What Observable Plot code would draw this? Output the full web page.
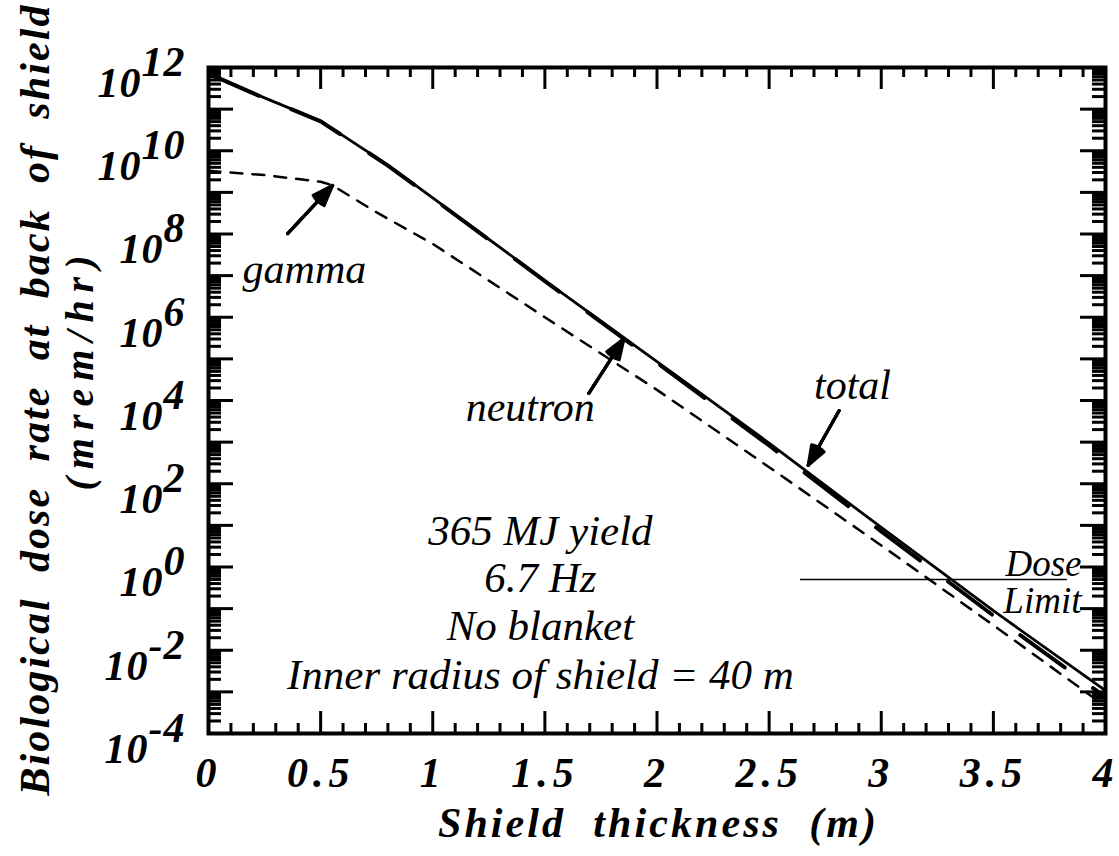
<!DOCTYPE html>
<html>
<head>
<meta charset="utf-8">
<script src="https://cdn.jsdelivr.net/npm/d3@7"></script>
<script src="https://cdn.jsdelivr.net/npm/@observablehq/plot@0.6"></script>
<style>
  body { margin: 0; background: #fff; }
</style>
</head>
<body>
<div id="chart"></div>
<script>
// ---- data ----
const thickness = [0, 0.25, 0.5, 0.8, 1.0, 1.5, 2.0, 2.5, 3.0, 3.5, 4.0];
const totalDose = [7.2e11, 1.86e11, 5.2e10, 4.5e9, 7.4e8, 7.6e6, 8.6e4, 9.5e2, 8.9, 8.9e-2, 1.07e-3];
const neutronDose = [7.1e11, 1.82e11, 5.1e10, 4.4e9, 7.2e8, 7.4e6, 8.0e4, 8.3e2, 7.2, 6.8e-2, 7.5e-4];
const gammaThickness = [0, 0.25, 0.5, 0.55, 0.75, 1.0, 1.25, 1.5, 2.0, 2.5, 3.0, 3.5, 4.0];
const gammaDose = [3.3e9, 2.6e9, 1.8e9, 1.5e9, 3.3e8, 5.8e7, 7.6e6, 1.0e6, 1.8e4, 2.5e2, 3.3, 4.0e-2, 4.5e-4];

const doseLimit = [0.5];
const doseLimitFrom = [2.64];
const doseLimitTo = [3.83];

const xTicks = [0, 0.5, 1, 1.5, 2, 2.5, 3, 3.5, 4];
const xTickLabels = ["0", "0.5", "1", "1.5", "2", "2.5", "3", "3.5", "4"];
const yLabelExponents = [12, 10, 8, 6, 4, 2, 0, -2, -4];
const yLabelBase = "10";

const noteLines = ["365 MJ yield", "6.7 Hz", "No blanket", "Inner radius of shield = 40 m"];
const noteX = [1.48, 1.48, 1.48, 1.48];
const noteY = [7.1, 0.53, 0.037, 2.45e-3];

const curveLabels = ["gamma", "neutron", "total"];
const curveLabelX = [0.152, 1.147, 2.70];
const curveLabelY = [1.41e7, 6.8e3, 2.3e4];

const arrowX1 = [0.353, 1.696, 2.8125];
const arrowY1 = [1.02e8, 1.48e4, 5.75e3];
const arrowX2 = [0.554, 1.853, 2.674];
const arrowY2 = [1.48e9, 3.09e5, 2.75e2];

const limitLabels = ["Dose", "Limit"];
const limitLabelX = [3.893, 3.893];
const limitLabelY = [1.2, 0.148];

const xTitle = "Shield  thickness  (m)";
const yTitle = "Biological  dose  rate  at  back  of  shield";
const yUnits = "(mrem/hr)";

// ---- tables built from the arrays ----
const total = thickness.map((t, i) => ({t, v: totalDose[i]}));
const neutron = thickness.map((t, i) => ({t, v: neutronDose[i]}));
const gamma = gammaThickness.map((t, i) => ({t, v: gammaDose[i]}));
const notes = noteLines.map((s, i) => ({s, x: noteX[i], y: noteY[i]}));
const cLabels = curveLabels.map((s, i) => ({s, x: curveLabelX[i], y: curveLabelY[i]}));
const arrows = arrowX1.map((x1, i) => ({x1, y1: arrowY1[i], x2: arrowX2[i], y2: arrowY2[i]}));
const lLabels = limitLabels.map((s, i) => ({s, x: limitLabelX[i], y: limitLabelY[i]}));
const limitRow = doseLimit.map((v, i) => ({v, x1: doseLimitFrom[i], x2: doseLimitTo[i]}));

const xMajor = d3.range(0, 4.0001, 0.5);
const xMinor = d3.range(0, 41).map(i => i / 10).filter(d => Math.abs(d * 2 - Math.round(d * 2)) > 1e-9);
const yMajor = d3.range(-4, 13).map(k => Math.pow(10, k));
const yMinor = d3.range(-4, 12).flatMap(k => d3.range(2, 10).map(m => m * Math.pow(10, k)));
const yLabelTicks = yLabelExponents.map(e => Math.pow(10, e));

const W = 1119, H = 856;
const mL = 208, mR = 14, mT = 67, mB = 123;
const iW = W - mL - mR, iH = H - mT - mB;

const serif = "'Liberation Serif', 'Times New Roman', serif";
const bi = {fontFamily: serif, fontWeight: "bold", fontStyle: "italic"};
const it = {fontFamily: serif, fontStyle: "italic"};

const svg = Plot.plot({
  width: W, height: H,
  marginLeft: mL, marginRight: mR, marginTop: mT, marginBottom: mB,
  style: {background: "white", color: "black", fontFamily: serif},
  x: {domain: [0, 4]},
  y: {type: "log", domain: [1e-4, 1e12]},
  marks: [
    // inward ticks
    Plot.ruleX(xMinor, {x: d => d, insetTop: iH - 10, strokeWidth: 3}),
    Plot.ruleX(xMinor, {x: d => d, insetBottom: iH - 10, strokeWidth: 3}),
    Plot.ruleX(xMajor, {x: d => d, insetTop: iH - 22, strokeWidth: 3}),
    Plot.ruleX(xMajor, {x: d => d, insetBottom: iH - 22, strokeWidth: 3}),
    Plot.ruleY(yMinor, {y: d => d, insetRight: iW - 13, strokeWidth: 3}),
    Plot.ruleY(yMinor, {y: d => d, insetLeft: iW - 13, strokeWidth: 3}),
    Plot.ruleY(yMajor, {y: d => d, insetRight: iW - 25, strokeWidth: 3}),
    Plot.ruleY(yMajor, {y: d => d, insetLeft: iW - 25, strokeWidth: 3}),
    Plot.frame({strokeWidth: 4}),
    // curves
    Plot.line(gamma, {x: "t", y: "v", strokeWidth: 2.5, strokeDasharray: "12,10", clip: true}),
    Plot.line(total, {x: "t", y: "v", strokeWidth: 2.8, clip: true}),
    Plot.line(neutron, {x: "t", y: "v", strokeWidth: 4, strokeDasharray: "55,35", clip: true}),
    // dose limit
    Plot.ruleY(limitRow, {y: "v", x1: "x1", x2: "x2", strokeWidth: 1.6}),
    // arrows (several head angles to fill the head)
    ...[40, 30, 20, 10].map(a => Plot.arrow(arrows, {x1: "x1", y1: "y1", x2: "x2", y2: "y2", strokeWidth: 3, headLength: 27, headAngle: a})),
    // texts
    Plot.text(notes, {x: "x", y: "y", text: "s", fontSize: 43, ...it}),
    Plot.text(cLabels, {x: "x", y: "y", text: "s", fontSize: 42, textAnchor: "start", ...it}),
    Plot.text(lLabels, {x: "x", y: "y", text: "s", fontSize: 37, textAnchor: "end", ...it}),
    // axes labels
    Plot.axisX(xTicks, {anchor: "bottom", tickSize: 0, tickPadding: 24, fontSize: 42, ...bi,
      tickFormat: d => xTickLabels[xTicks.indexOf(d)]}),
    Plot.axisY(yLabelTicks, {anchor: "left", tickSize: 0, tickPadding: 23, fontSize: 42, ...bi,
      tickFormat: d => yLabelBase + "^" + Math.round(Math.log10(d))}),
    Plot.text([xTitle], {frameAnchor: "bottom", textAnchor: "start", dx: -219, dy: 103, fontSize: 42, ...bi}),
    Plot.text([yTitle], {frameAnchor: "left", textAnchor: "start", rotate: -90, dx: -173, dy: 395, fontSize: 42, ...bi}),
    Plot.text([yUnits], {frameAnchor: "left", textAnchor: "start", rotate: -90, dx: -128, dy: 90, fontSize: 40, ...bi})
  ]
});

// superscript exponents on the y tick labels
d3.select(svg).selectAll('g[aria-label="y-axis tick label"] text').each(function () {
  const parts = this.textContent.split("^");
  if (parts.length === 2) {
    this.textContent = parts[0];
    d3.select(this).append("tspan").attr("dy", "-0.5em").text(parts[1]);
    d3.select(this).attr("dy", "0.38em").style("letter-spacing", "1px");
  }
});
d3.select(svg).selectAll('g[aria-label="x-axis tick label"] text').style("letter-spacing", "5px");
d3.select(svg).selectAll("text").each(function () {
  const s = this.textContent;
  if (s === xTitle) d3.select(this).attr("textLength", 438).attr("lengthAdjust", "spacing").style("white-space", "pre");
  if (s === yTitle) d3.select(this).attr("textLength", 790).attr("lengthAdjust", "spacing").style("white-space", "pre");
  if (s === yUnits) d3.select(this).attr("textLength", 235).attr("lengthAdjust", "spacing");
});

document.getElementById("chart").appendChild(svg);
</script>
</body>
</html>
